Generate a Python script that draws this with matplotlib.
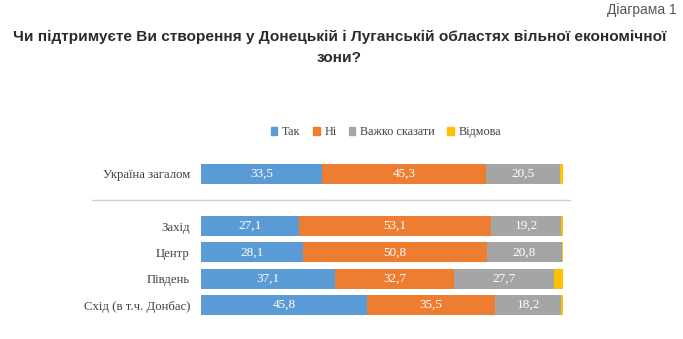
import matplotlib.pyplot as plt
from matplotlib.patches import Patch

categories = ['Україна загалом', 'Захід', 'Центр', 'Південь', 'Схід (в т.ч. Донбас)']
positions = [5, 3, 2, 1, 0]
tak = [33.5, 27.1, 28.1, 37.1, 45.8]
ni = [45.3, 53.1, 50.8, 32.7, 35.5]
vazhko = [20.5, 19.2, 20.8, 27.7, 18.2]
vidmova = [0.7, 0.6, 0.3, 2.5, 0.5]

series_names = ['Так', 'Ні', 'Важко сказати', 'Відмова']
colors = ['#5B9BD5', '#ED7D31', '#A5A5A5', '#FFC000']

fig = plt.figure(figsize=(6.83, 3.39), dpi=100)
ax = fig.add_axes([0.2943, 0.0614, 0.530, 0.4655])

serif = 'Liberation Serif'
left = [0.0] * len(categories)
for vals, col in zip([tak, ni, vazhko, vidmova], colors):
    ax.barh(positions, vals, left=left, height=0.76, color=col)
    if col != '#FFC000':
        for p, l, v in zip(positions, left, vals):
            ax.text(l + v / 2, p, f'{v:.1f}'.replace('.', ','), ha='center', va='center',
                    color='white', fontsize=9.5, family=serif)
    left = [l + v for l, v in zip(left, vals)]

ax.set_xlim(0, 100)
ax.set_ylim(-0.5, 5.5)
ax.set_yticks(positions)
ax.set_yticklabels(categories, family=serif, fontsize=9.2, color='#404040')
ax.tick_params(axis='y', length=0, pad=8)
ax.set_xticks([])
for s in ax.spines.values():
    s.set_visible(False)

# separator between the total and the regions
ax.plot([-30.1, 101.9], [4, 4], color='#d0d0d0', lw=1, clip_on=False)

handles = [Patch(color=c) for c in colors]
leg = fig.legend(handles, series_names, loc='center', bbox_to_anchor=(0.565, 0.61), ncol=4,
                 frameon=False, handlelength=0.55, handleheight=0.55, handletextpad=0.4,
                 columnspacing=1.0, prop={'family': serif, 'size': 8.7})
for t in leg.get_texts():
    t.set_color('#404040')

fig.text(0.991, 0.97, 'Діаграма 1', ha='right', va='center', fontsize=10,
         family='Liberation Sans', color='#555555')
fig.text(0.497, 0.89, 'Чи підтримуєте Ви створення у Донецькій і Луганській областях вільної економічної',
         ha='center', va='center', fontsize=11.1, weight='bold', family='Liberation Sans', color='#2b2b2b')
fig.text(0.497, 0.828, 'зони?', ha='center', va='center', fontsize=11.1, weight='bold',
         family='Liberation Sans', color='#2b2b2b')

fig.savefig('out.png', dpi=100)
